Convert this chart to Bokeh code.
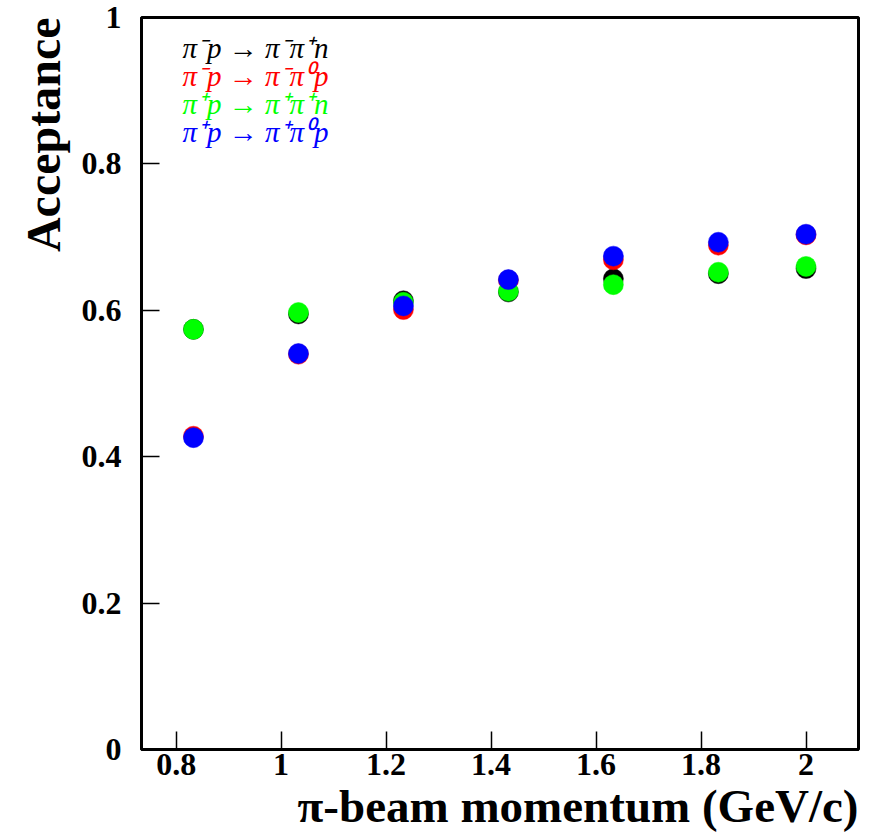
from bokeh.plotting import figure
from bokeh.models import Range1d, FixedTicker, Label, Title
from bokeh.embed import file_html
from bokeh.resources import INLINE

# ---- data ----
momentum = [0.833, 1.033, 1.233, 1.433, 1.633, 1.833, 2.0]
acc_pim_pimpip_n = [0.574, 0.595, 0.613, 0.625, 0.643, 0.650, 0.657]   # black
acc_pim_pimpi0_p = [0.428, 0.540, 0.601, 0.641, 0.669, 0.689, 0.703]   # red
acc_pip_pippip_n = [0.574, 0.597, 0.611, 0.626, 0.635, 0.652, 0.660]   # green
acc_pip_pippi0_p = [0.426, 0.541, 0.606, 0.642, 0.674, 0.693, 0.704]   # blue
x_ticks = [0.8, 1.0, 1.2, 1.4, 1.6, 1.8, 2.0]
y_ticks = [0, 0.2, 0.4, 0.6, 0.8, 1.0]
legend_labels = ["π⁻p → π⁻π⁺n", "π⁻p → π⁻π⁰p", "π⁺p → π⁺π⁺n", "π⁺p → π⁺π⁰p"]
colors = ["#000000", "#ff0000", "#00ff00", "#0000ff"]
series = [acc_pim_pimpip_n, acc_pim_pimpi0_p, acc_pip_pippip_n, acc_pip_pippi0_p]
x_title = "π-beam momentum (GeV/c)"
y_title = "Acceptance"

X0, X1 = 0.734, 2.1
Y0, Y1 = 0.0, 1.0
FW, FH = 717, 732
BL, BT = 141, 17
XPX = FW / (X1 - X0)
YPX = FH / (Y1 - Y0)

def px_to_x(px):
    return X0 + (px - BL) / XPX

def py_to_y(py):
    return Y1 - (py - BT) / YPX

p = figure(width=870, height=833,
           min_border_left=BL, min_border_right=12, min_border_top=BT, min_border_bottom=84,
           x_range=Range1d(X0, X1), y_range=Range1d(Y0, Y1),
           output_backend="svg", toolbar_location=None)

p.grid.visible = False
p.outline_line_color = "black"
p.outline_line_width = 3
p.background_fill_color = "white"
p.border_fill_color = "white"

for ax in (p.xaxis[0], p.yaxis[0]):
    ax.axis_line_width = 3
    ax.axis_line_color = "black"
    ax.major_tick_in = 18
    ax.major_tick_out = 0
    ax.minor_tick_in = 0
    ax.minor_tick_out = 0
    ax.major_tick_line_width = 1.5
    ax.major_label_text_font = "Liberation Serif"
    ax.major_label_text_font_style = "bold"
    ax.major_label_text_font_size = "32px"
    ax.major_label_text_color = "black"

p.xaxis.ticker = FixedTicker(ticks=x_ticks)
p.yaxis.ticker = FixedTicker(ticks=y_ticks)
p.xaxis.major_label_overrides = {0.8: "0.8", 1.0: "1", 1.2: "1.2", 1.4: "1.4", 1.6: "1.6", 1.8: "1.8", 2.0: "2"}
p.yaxis.major_label_overrides = {0: "0", 0.2: "0.2", 0.4: "0.4", 0.6: "0.6", 0.8: "0.8", 1.0: "1"}
p.xaxis.major_label_standoff = 4
p.yaxis.major_label_standoff = 20

# axis titles (ROOT style: aligned with the right / top ends)
p.add_layout(Title(text=x_title, align="right", text_font="Liberation Serif",
                   text_font_style="bold", text_font_size="47px", text_color="black",
                   standoff=0, offset=0, text_line_height=0.9), "below")
p.add_layout(Title(text=y_title, align="right", text_font="Liberation Serif",
                   text_font_style="bold", text_font_size="48px", text_color="black",
                   standoff=18, offset=0, text_line_height=0.9), "left")

for ys, c in zip(series, colors):
    p.scatter(momentum, ys, size=20, fill_color=c, line_color=c, line_width=0.5)

# legend as coloured text
for i, (lab, c) in enumerate(zip(legend_labels, colors)):
    p.add_layout(Label(x=px_to_x(182), y=py_to_y(47 + 28 * i), text=lab, text_color=c,
                       text_font="Liberation Serif", text_font_style="italic",
                       text_font_size="29px", text_baseline="middle", text_align="left"))

open("out.html", "w").write(file_html(p, INLINE))
